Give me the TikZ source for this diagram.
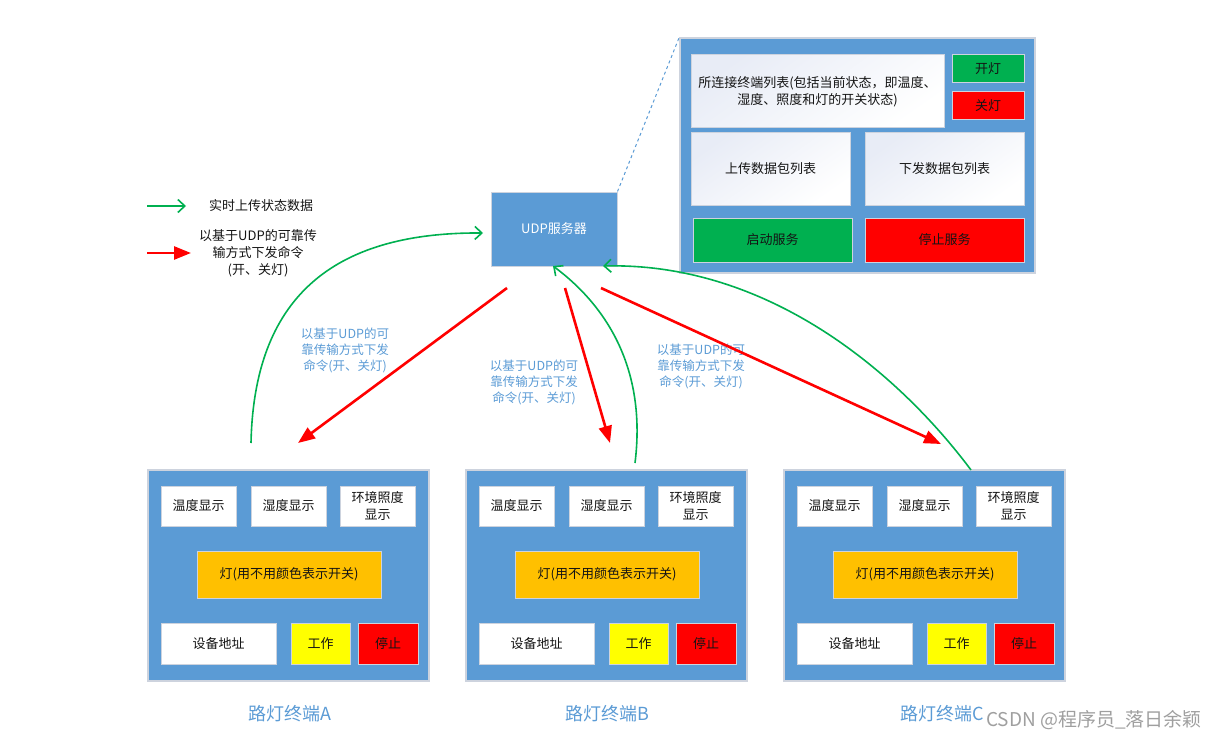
\documentclass[tikz,border=0pt]{standalone}
\usepackage{fontspec}
\setmainfont{Noto Sans CJK SC}
\usepackage{tikz}
\usetikzlibrary{arrows.meta, positioning}
\definecolor{panelblue}{RGB}{91, 155, 213}
\definecolor{edgegray}{RGB}{205, 211, 222}
\definecolor{shadegray}{RGB}{232, 236, 246}
\definecolor{okgreen}{RGB}{0, 176, 80}
\definecolor{nored}{RGB}{255, 0, 0}
\definecolor{lamporange}{RGB}{255, 192, 0}
\definecolor{workyellow}{RGB}{255, 255, 0}
\definecolor{darktext}{RGB}{20, 20, 20}

\begin{document}
\begin{tikzpicture}[
    x=1pt, y=-1pt,
    panel/.style={rectangle, draw=edgegray, fill=panelblue, line width=1.5pt, inner sep=0pt},
    cell/.style={rectangle, draw=edgegray, fill=white, line width=1pt, inner sep=1pt,
                 align=center, text=darktext, font=\fontsize{13}{17}\selectfont},
    shadecell/.style={cell, top color=shadegray, bottom color=white, shading angle=35},
    smallcell/.style={cell, minimum width=75pt, minimum height=40pt},
    note/.style={align=center, text=panelblue, font=\fontsize{12.5}{16}\selectfont},
    legendtext/.style={align=center, text=darktext, font=\fontsize{13}{17}\selectfont},
    termlabel/.style={text=panelblue, font=\fontsize{18}{20}\selectfont},
    uparrow/.style={-{Straight Barb[length=7pt, width=13pt]}, line width=1.6pt, okgreen},
    downarrow/.style={-{Triangle[length=17pt, width=13pt]}, line width=2.6pt, nored}
]
\useasboundingbox (0,0) rectangle (1220,741);

% Server window
\node[panel, minimum width=355pt, minimum height=235pt] (server) at (857.5,155.5) {};
\node[shadecell, minimum width=253pt, minimum height=73pt] (clients) at (817.5,91.5)
    {所连接终端列表(包括当前状态，即温度、\\湿度、照度和灯的开关状态)};
\node[cell, fill=okgreen, minimum width=72pt, minimum height=28pt] (lighton) at (988,69) {开灯};
\node[cell, fill=nored, minimum width=72pt, minimum height=28pt] (lightoff) at (988,106) {关灯};
\node[shadecell, minimum width=159pt, minimum height=72pt] (uplist) at (770.5,169) {上传数据包列表};
\node[shadecell, minimum width=159pt, minimum height=72pt] (downlist) at (944.5,169) {下发数据包列表};
\node[cell, fill=okgreen, minimum width=159pt, minimum height=44pt] (startsrv) at (772.5,240) {启动服务};
\node[cell, fill=nored, minimum width=159pt, minimum height=44pt] (stopsrv) at (944.5,240) {停止服务};

% UDP server
\node[cell, fill=panelblue, text=white, minimum width=126pt, minimum height=74pt] (udp) at (554,229) {UDP服务器};
\draw[dashed, panelblue, line width=1pt] (udp.north east) -- (server.north west);

% Legend
\coordinate (lgA) at (147,206);
\coordinate (lgB) at (186,206);
\coordinate (lgC) at (147,253);
\coordinate (lgD) at (191,253);
\draw[uparrow] (lgA) -- (lgB);
\node[legendtext] (lgup) at (261,206) {实时上传状态数据};
\draw[downarrow] (lgC) -- (lgD);
\node[legendtext] (lgdown) at (258,253) {以基于UDP的可靠传\\输方式下发命令\\(开、关灯)};

% Terminal A
\node[panel, minimum width=281pt, minimum height=211pt] (termA) at (288.5,575.5) {};
\node[smallcell] (tempA) at (198.5,506) {温度显示};
\node[smallcell] (humA) at (288.5,506) {湿度显示};
\node[smallcell] (luxA) at (377.5,506) {环境照度\\显示};
\node[cell, fill=lamporange, minimum width=184pt, minimum height=47pt] (lampA) at (289,574.5) {灯(用不用颜色表示开关)};
\node[cell, minimum width=115pt, minimum height=41pt] (addrA) at (218.5,643.5) {设备地址};
\node[cell, fill=workyellow, minimum width=59pt, minimum height=41pt] (workA) at (320.5,643.5) {工作};
\node[cell, fill=nored, minimum width=60pt, minimum height=41pt] (haltA) at (388,643.5) {停止};
\node[termlabel] (nameA) at (290,714) {路灯终端A};

% Terminal B
\node[panel, minimum width=281pt, minimum height=211pt] (termB) at (606.5,575.5) {};
\node[smallcell] (tempB) at (516.5,506) {温度显示};
\node[smallcell] (humB) at (606.5,506) {湿度显示};
\node[smallcell] (luxB) at (695.5,506) {环境照度\\显示};
\node[cell, fill=lamporange, minimum width=184pt, minimum height=47pt] (lampB) at (607,574.5) {灯(用不用颜色表示开关)};
\node[cell, minimum width=115pt, minimum height=41pt] (addrB) at (536.5,643.5) {设备地址};
\node[cell, fill=workyellow, minimum width=59pt, minimum height=41pt] (workB) at (638.5,643.5) {工作};
\node[cell, fill=nored, minimum width=60pt, minimum height=41pt] (haltB) at (706,643.5) {停止};
\node[termlabel] (nameB) at (607,714) {路灯终端B};

% Terminal C
\node[panel, minimum width=281pt, minimum height=211pt] (termC) at (924.5,575.5) {};
\node[smallcell] (tempC) at (834.5,506) {温度显示};
\node[smallcell] (humC) at (924.5,506) {湿度显示};
\node[smallcell] (luxC) at (1013.5,506) {环境照度\\显示};
\node[cell, fill=lamporange, minimum width=184pt, minimum height=47pt] (lampC) at (925,574.5) {灯(用不用颜色表示开关)};
\node[cell, minimum width=115pt, minimum height=41pt] (addrC) at (854.5,643.5) {设备地址};
\node[cell, fill=workyellow, minimum width=59pt, minimum height=41pt] (workC) at (956.5,643.5) {工作};
\node[cell, fill=nored, minimum width=60pt, minimum height=41pt] (haltC) at (1024,643.5) {停止};
\node[termlabel] (nameC) at (942,714) {路灯终端C};

% Command notes
\node[note] (noteA) at (345,350) {以基于UDP的可\\靠传输方式下发\\命令(开、关灯)};
\node[note] (noteB) at (534,382) {以基于UDP的可\\靠传输方式下发\\命令(开、关灯)};
\node[note] (noteC) at (701,366) {以基于UDP的可\\靠传输方式下发\\命令(开、关灯)};

% Arrow ends
\coordinate (upA) at (251,443);
\coordinate (inA) at (483,233);
\coordinate (upB) at (635,463);
\coordinate (inB) at (553,266);
\coordinate (upC) at (971,470);
\coordinate (inC) at (603,266);
\coordinate (outA) at (507,288);
\coordinate (toA) at (298,443);
\coordinate (outB) at (565,288);
\coordinate (toB) at (610,443);
\coordinate (outC) at (601,288);
\coordinate (toC) at (941,444);

% Status upload
\draw[uparrow] (upA) .. controls (254,300) and (330,232) .. (inA);
\draw[uparrow] (upB) .. controls (646,375) and (612,310) .. (inB);
\draw[uparrow] (upC) .. controls (900,375) and (770,262) .. (inC);

% Commands
\draw[downarrow] (outA) -- (toA);
\draw[downarrow] (outB) -- (toB);
\draw[downarrow] (outC) -- (toC);

% Watermark
\node[text=gray!75, font=\fontsize{19}{21}\selectfont] (mark) at (1094,720) {CSDN @程序员\_落日余颖};

\end{tikzpicture}
\end{document}
